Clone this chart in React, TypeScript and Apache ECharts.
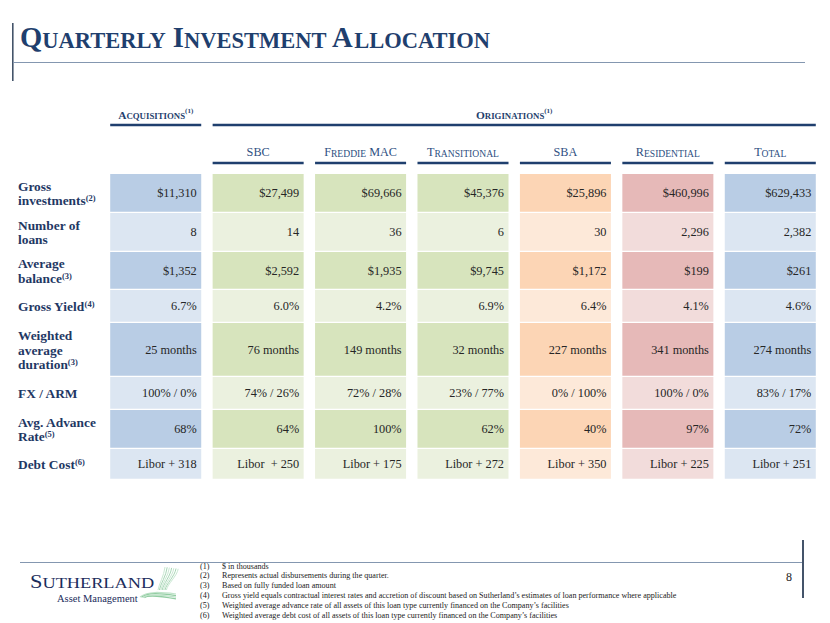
import React, { useEffect, useRef } from 'react';
import * as echarts from 'echarts';

// ---------- data ----------
const TITLE = 'Quarterly Investment Allocation';
const GROUPS = ['Acquisitions', 'Originations'];
const GROUP_NOTES = ['(1)', '(1)'];
const GROUP_START = [0, 1];
const GROUP_END = [0, 6];
const COLUMNS = ['Acquisitions', 'SBC', 'Freddie MAC', 'Transitional', 'SBA', 'Residential', 'Total'];
const COLUMN_HEADERS = ['', 'SBC', 'Freddie MAC', 'Transitional', 'SBA', 'Residential', 'Total'];

const ROW_LABELS = [
  ['Gross', 'investments'],
  ['Number of', 'loans'],
  ['Average', 'balance'],
  ['Gross Yield'],
  ['Weighted', 'average', 'duration'],
  ['FX / ARM'],
  ['Avg. Advance', 'Rate'],
  ['Debt Cost'],
];
const ROW_NOTES = ['(2)', '', '(3)', '(4)', '(3)', '', '(5)', '(6)'];

const grossInvestments = ['$11,310', '$27,499', '$69,666', '$45,376', '$25,896', '$460,996', '$629,433'];
const numberOfLoans = ['8', '14', '36', '6', '30', '2,296', '2,382'];
const averageBalance = ['$1,352', '$2,592', '$1,935', '$9,745', '$1,172', '$199', '$261'];
const grossYield = ['6.7%', '6.0%', '4.2%', '6.9%', '6.4%', '4.1%', '4.6%'];
const weightedDuration = ['25 months', '76 months', '149 months', '32 months', '227 months', '341 months', '274 months'];
const fxArm = ['100% / 0%', '74% / 26%', '72% / 28%', '23% / 77%', '0% / 100%', '100% / 0%', '83% / 17%'];
const advanceRate = ['68%', '64%', '100%', '62%', '40%', '97%', '72%'];
const debtCost = ['Libor + 318', 'Libor  + 250', 'Libor + 175', 'Libor + 272', 'Libor + 350', 'Libor + 225', 'Libor + 251'];
const ROWS = [grossInvestments, numberOfLoans, averageBalance, grossYield, weightedDuration, fxArm, advanceRate, debtCost];

const FOOTNOTE_IDS = ['(1)', '(2)', '(3)', '(4)', '(5)', '(6)'];
const FOOTNOTES = [
  '$ in thousands',
  'Represents actual disbursements during the quarter.',
  'Based on fully funded loan amount',
  'Gross yield equals contractual interest rates and accretion of discount based on Sutherland\u2019s estimates of loan performance where applicable',
  'Weighted average advance rate of all assets of this loan type currently financed on the Company\u2019s facilities',
  'Weighted average debt cost of all assets of this loan type currently financed on the Company\u2019s facilities',
];
const PAGE_NUMBER = '8';
const LOGO_NAME = 'Sutherland';
const LOGO_SUB = 'Asset Management';

// ---------- styles / layout ----------
const SERIF = '"Liberation Serif", "Times New Roman", Times, serif';
const NAVY = '#1f3864';
const HEAD_BLUE = '#2e4f82';
const VALUE_COLOR = '#262626';
const COLUMN_TONE = ['blue', 'green', 'green', 'green', 'orange', 'red', 'blue'];
const SHADES: Record<string, string[]> = {
  blue: ['#b9cde5', '#dce6f2'],
  green: ['#d7e4bd', '#ebf1df'],
  orange: ['#fcd5b5', '#fde9d9'],
  red: ['#e6b9b8', '#f2dcdb'],
};
const ROW_HEIGHTS = [39, 39, 38, 33, 54, 33, 39, 31];
const TABLE_HEIGHT = ROW_HEIGHTS.reduce((a, b) => a + b, 0);
const CELL_GAP_X = 11.4;

function smallCaps(s: string, big: string, small: string) {
  let out = '';
  let cur = '';
  let curStyle = '';
  for (const ch of s) {
    const isLower = ch >= 'a' && ch <= 'z';
    const st = isLower ? small : big;
    const c = isLower ? ch.toUpperCase() : ch;
    if (st !== curStyle && cur) {
      out += `{${curStyle}|${cur}}`;
      cur = '';
    }
    curStyle = st;
    cur += c;
  }
  if (cur) out += `{${curStyle}|${cur}}`;
  return out;
}

const ROW_TOPS: number[] = [];
{
  let t = 0;
  for (const h of ROW_HEIGHTS) {
    ROW_TOPS.push(t);
    t += h;
  }
}

const cellData: number[][] = [];
const cellText: string[] = [];
const cellFill: string[] = [];
ROWS.forEach((row, r) => {
  row.forEach((v, c) => {
    cellData.push([c, ROW_TOPS[r], ROW_TOPS[r] + ROW_HEIGHTS[r]]);
    cellText.push(v);
    cellFill.push(SHADES[COLUMN_TONE[c]][r % 2]);
  });
});

export default function App() {
  const ref = useRef<HTMLDivElement>(null);
  useEffect(() => {
    if (!ref.current) return;
    const chart = echarts.init(ref.current, undefined, { renderer: 'svg' });

    const footnoteGraphics: any[] = [];
    FOOTNOTES.forEach((t, i) => {
      const y = 566 + i * 9.9;
      footnoteGraphics.push({
        type: 'text', x: 200, y,
        style: { text: FOOTNOTE_IDS[i], fontFamily: SERIF, fontSize: 8.1, fill: '#222', verticalAlign: 'middle' },
      });
      footnoteGraphics.push({
        type: 'text', x: 222, y,
        style: { text: t, fontFamily: SERIF, fontSize: 8.1, fill: '#222', verticalAlign: 'middle' },
      });
    });

    const wisps: any[] = [];
    [0, 1, 2, 3, 4, 5, 6].forEach((i) => {
      const xt = 165 + i * 2.2;
      const xb = 158 + i * 1.4;
      wisps.push({
        type: 'bezierCurve',
        shape: { x1: xt, y1: 567 + i * 0.3, cpx1: xt - 1, cpy1: 576, cpx2: xb + 1, cpy2: 584, x2: xb, y2: 590 },
        style: { stroke: i % 2 ? '#a7d6b5' : '#c9e8d2', lineWidth: 1, fill: null },
      });
    });
    [0, 1, 2, 3].forEach((i) => {
      wisps.push({
        type: 'bezierCurve',
        shape: { x1: 140 + i * 1.5, y1: 597 + i * 0.3, cpx1: 148, cpy1: 591 + i * 1.2, cpx2: 160, cpy2: 592 + i * 1.4, x2: 176, y2: 594 + i * 1.6 },
        style: { stroke: i % 2 ? '#93cda3' : '#bfe3c9', lineWidth: 1.2, fill: null },
      });
    });

    const option: any = {
      animation: false,
      grid: { left: 104.5, right: 8.5, top: 174, height: TABLE_HEIGHT },
      xAxis: { type: 'category', data: COLUMNS, show: false },
      yAxis: { type: 'value', min: 0, max: TABLE_HEIGHT, inverse: true, show: false },
      graphic: [
        { type: 'rect', shape: { x: 12, y: 23, width: 1.6, height: 58 }, style: { fill: '#44546a' } },
        { type: 'line', shape: { x1: 13, y1: 62.5, x2: 805, y2: 62.5 }, style: { stroke: '#8497b0', lineWidth: 1 } },
        {
          type: 'text', x: 20, y: 52,
          style: {
            text: smallCaps(TITLE, 'b', 's'),
            verticalAlign: 'bottom',
            rich: {
              b: { fontFamily: SERIF, fontWeight: 'bold', fontSize: 28.6, fill: '#1f3f6e', verticalAlign: 'bottom' },
              s: { fontFamily: SERIF, fontWeight: 'bold', fontSize: 22.5, fill: '#1f3f6e', verticalAlign: 'bottom' },
            },
          },
        },
        { type: 'line', shape: { x1: 20, y1: 562.5, x2: 803, y2: 562.5 }, style: { stroke: '#8497b0', lineWidth: 1 } },
        { type: 'rect', shape: { x: 802, y: 540, width: 2, height: 58 }, style: { fill: '#44546a' } },
        {
          type: 'text', x: 789, y: 577,
          style: { text: PAGE_NUMBER, fontFamily: SERIF, fontSize: 12, fill: '#222', align: 'center', verticalAlign: 'middle' },
        },
        ...footnoteGraphics,
        {
          type: 'text', x: 30, y: 591, scaleX: 1.18,
          style: {
            text: smallCaps(LOGO_NAME, 'b', 's'),
            verticalAlign: 'bottom',
            rich: {
              b: { fontFamily: SERIF, fontSize: 19, fill: '#1b2d5c', verticalAlign: 'bottom' },
              s: { fontFamily: SERIF, fontSize: 15.5, fill: '#1b2d5c', verticalAlign: 'bottom' },
            },
          },
        },
        {
          type: 'text', x: 57, y: 598,
          style: { text: LOGO_SUB, fontFamily: SERIF, fontSize: 10.5, fill: '#1b2d5c', verticalAlign: 'middle' },
        },
        ...wisps,
      ],
      series: [
        {
          type: 'custom',
          name: 'cells',
          coordinateSystem: 'cartesian2d',
          clip: false,
          encode: { x: 0, y: 1 },
          data: cellData,
          renderItem: (params: any, api: any) => {
            const col = api.value(0);
            const p0 = api.coord([col, api.value(1)]);
            const p1 = api.coord([col, api.value(2)]);
            const bw = api.size([1, 0])[0];
            const w = bw - CELL_GAP_X;
            const x = p0[0] - w / 2;
            const y = p0[1];
            const h = p1[1] - p0[1] - 1.2;
            return {
              type: 'group',
              children: [
                { type: 'rect', shape: { x, y, width: w, height: h }, style: { fill: cellFill[params.dataIndex] } },
                {
                  type: 'text',
                  style: {
                    text: cellText[params.dataIndex],
                    x: x + w - 4.5, y: y + h / 2 + 0.5,
                    align: 'right', verticalAlign: 'middle',
                    fontFamily: SERIF, fontSize: 12.3, fill: VALUE_COLOR,
                  },
                },
              ],
            };
          },
        },
        {
          type: 'custom',
          name: 'rowLabels',
          coordinateSystem: 'cartesian2d',
          clip: false,
          encode: { x: 0, y: 1 },
          data: ROW_TOPS.map((t, r) => [0, t, t + ROW_HEIGHTS[r]]),
          renderItem: (params: any, api: any) => {
            const r = params.dataIndex;
            const p0 = api.coord([0, api.value(1)]);
            const p1 = api.coord([0, api.value(2)]);
            const lines = ROW_LABELS[r];
            const text = lines
              .map((l, i) => `{b|${l}}` + (i === lines.length - 1 && ROW_NOTES[r] ? `{sup|${ROW_NOTES[r]}}` : ''))
              .join('\n');
            return {
              type: 'text',
              style: {
                text, x: 18, y: (p0[1] + p1[1]) / 2,
                align: 'left', verticalAlign: 'middle',
                rich: {
                  b: { fontFamily: SERIF, fontWeight: 'bold', fontSize: 13.4, fill: NAVY, lineHeight: 14.8 },
                  sup: { fontFamily: SERIF, fontWeight: 'bold', fontSize: 8.5, fill: NAVY, lineHeight: 10, verticalAlign: 'top' },
                },
              },
            };
          },
        },
        {
          type: 'custom',
          name: 'columnHeaders',
          coordinateSystem: 'cartesian2d',
          clip: false,
          encode: { x: 0, y: 1 },
          data: COLUMN_HEADERS.map((_, c) => [c, 0]),
          renderItem: (params: any, api: any) => {
            const c = params.dataIndex;
            if (!COLUMN_HEADERS[c]) return { type: 'group', children: [] };
            const p = api.coord([c, 0]);
            const w = api.size([1, 0])[0] - CELL_GAP_X;
            return {
              type: 'group',
              children: [
                { type: 'line', shape: { x1: p[0] - w / 2, y1: p[1] - 11, x2: p[0] + w / 2, y2: p[1] - 11 }, style: { stroke: '#1f3f6e', lineWidth: 2.6 } },
                {
                  type: 'text',
                  style: {
                    text: smallCaps(COLUMN_HEADERS[c], 'b', 's'),
                    x: p[0], y: p[1] - 16,
                    align: 'center', verticalAlign: 'bottom',
                    rich: {
                      b: { fontFamily: SERIF, fontSize: 12.2, fill: HEAD_BLUE, verticalAlign: 'bottom' },
                      s: { fontFamily: SERIF, fontSize: 9.6, fill: HEAD_BLUE, verticalAlign: 'bottom' },
                    },
                  },
                },
              ],
            };
          },
        },
        {
          type: 'custom',
          name: 'groupHeaders',
          coordinateSystem: 'cartesian2d',
          clip: false,
          encode: { x: 0, y: 1 },
          data: GROUPS.map((_, g) => [GROUP_START[g], 0, GROUP_END[g]]),
          renderItem: (params: any, api: any) => {
            const g = params.dataIndex;
            const bw = api.size([1, 0])[0];
            const w = bw - CELL_GAP_X;
            const a = api.coord([api.value(0), 0]);
            const b = api.coord([api.value(2), 0]);
            const x1 = a[0] - w / 2;
            const x2 = b[0] + w / 2;
            return {
              type: 'group',
              children: [
                { type: 'line', shape: { x1, y1: a[1] - 49, x2, y2: a[1] - 49 }, style: { stroke: '#1f3f6e', lineWidth: 2.6 } },
                {
                  type: 'text',
                  style: {
                    text: smallCaps(GROUPS[g], 'b', 's') + `{sup|${GROUP_NOTES[g]}}`,
                    x: (x1 + x2) / 2, y: a[1] - 54,
                    align: 'center', verticalAlign: 'bottom',
                    rich: {
                      b: { fontFamily: SERIF, fontWeight: 'bold', fontSize: 11.4, fill: '#1f3f6e', verticalAlign: 'bottom', lineHeight: 13 },
                      s: { fontFamily: SERIF, fontWeight: 'bold', fontSize: 8.8, fill: '#1f3f6e', verticalAlign: 'bottom', lineHeight: 13 },
                      sup: { fontFamily: SERIF, fontWeight: 'bold', fontSize: 7, fill: '#1f3f6e', verticalAlign: 'top', lineHeight: 8 },
                    },
                  },
                },
              ],
            };
          },
        },
      ],
    };
    chart.setOption(option);
    return () => chart.dispose();
  }, []);
  return <div ref={ref} style={{ position: 'fixed', left: 0, top: 0, width: 830, height: 623, background: '#fff' }} />;
}
